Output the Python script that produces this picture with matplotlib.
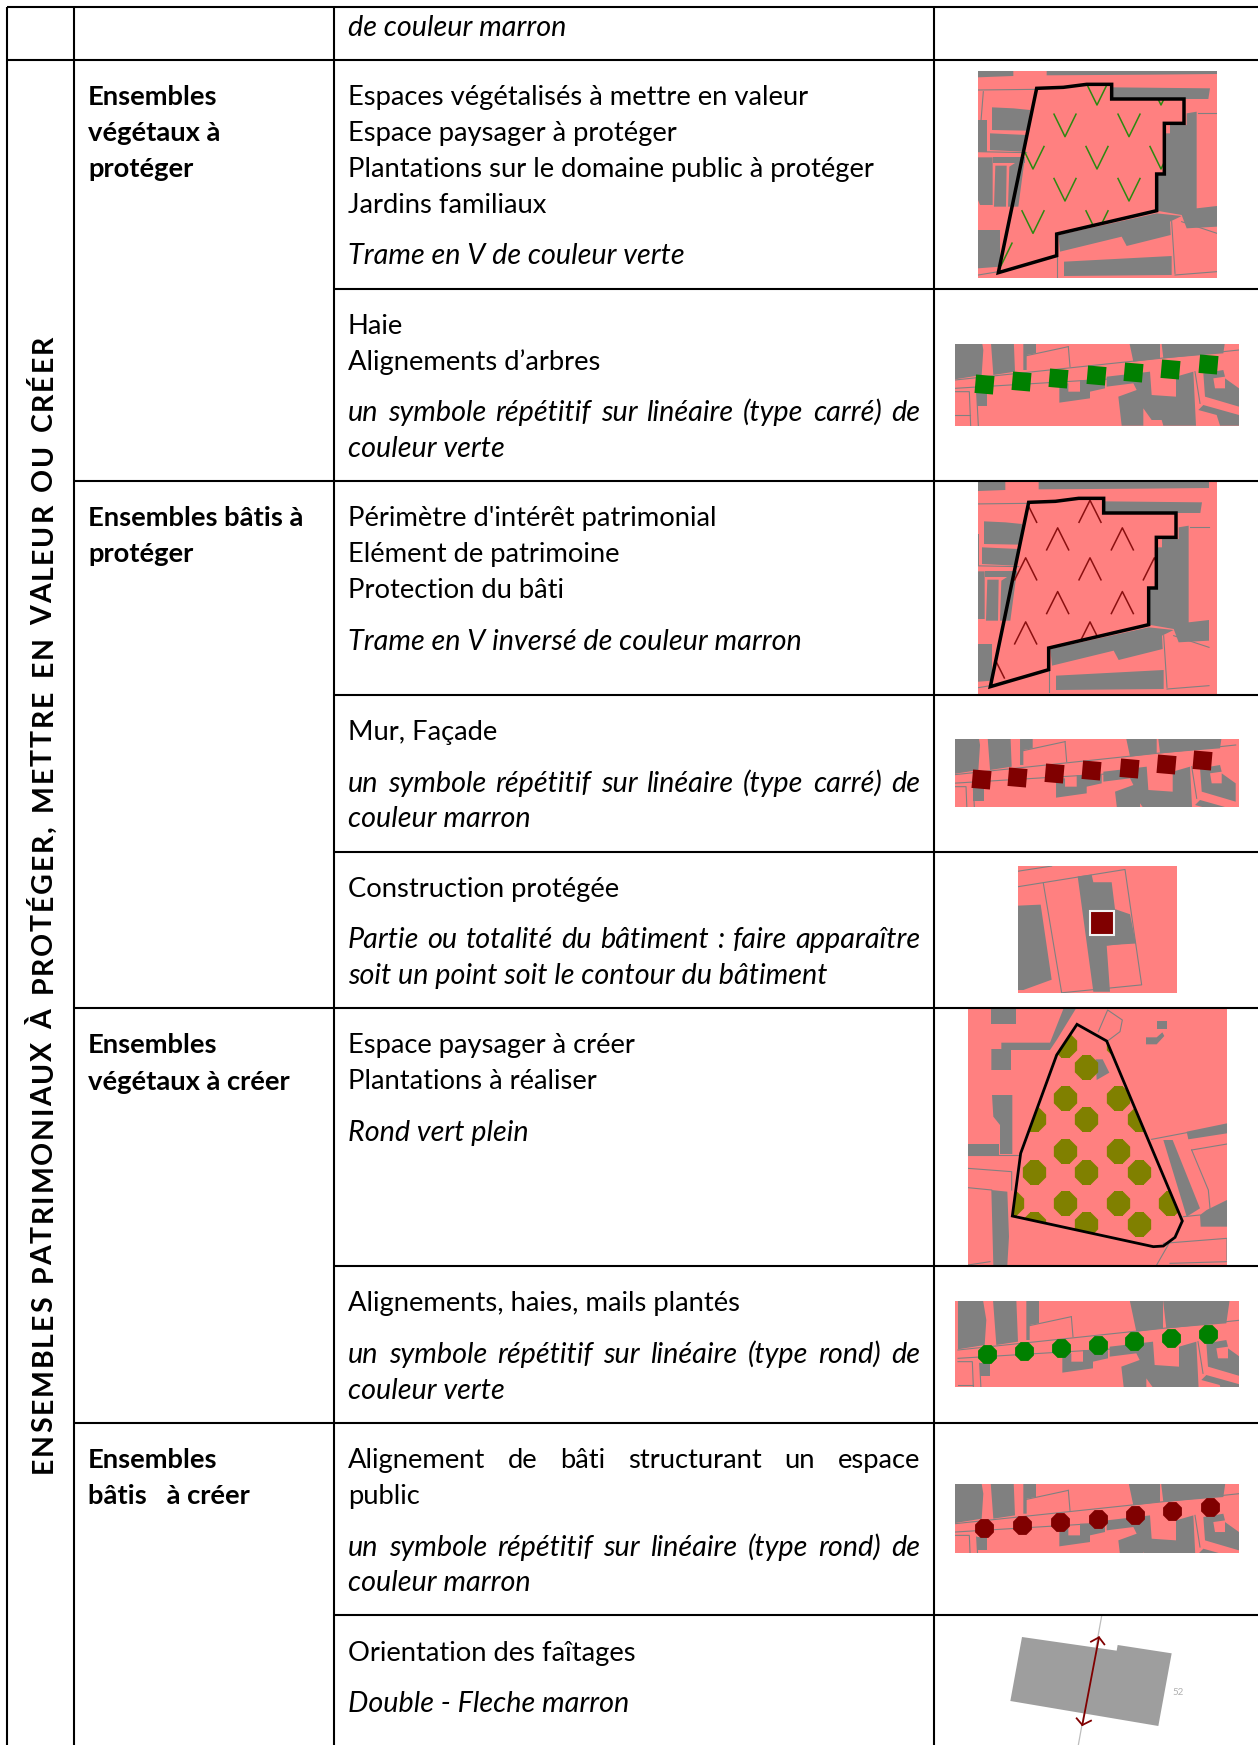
import matplotlib
matplotlib.use('Agg')
import matplotlib.pyplot as plt
from matplotlib.font_manager import FontProperties, findfont, get_font
from matplotlib.ft2font import Kerning
from matplotlib.patches import Polygon, Rectangle

plt.rcParams['font.family'] = ['Lato', 'DejaVu Sans']

PINK = '#ff8080'
GREY = '#808080'
GREEN = '#008000'
BROWN = '#800000'
OLIVE = '#808000'

# table rules, picture pixels
v_rules = [(7, 7, 1745), (74, 7, 1745), (334, 7, 1745), (934, 7, 1745)]
h_rules = [(7, 7), (7, 60), (334, 289), (74, 481), (334, 695), (334, 852),
           (74, 1008), (334, 1266), (74, 1423), (334, 1615)]

title = 'ENSEMBLES PATRIMONIAUX À PROTÉGER, METTRE EN VALEUR OU CRÉER'

left_labels = [
    (105, 'Ensembles'), (141, 'végétaux à'), (177, 'protéger'),
    (526, 'Ensembles bâtis à'), (562, 'protéger'),
    (1053, 'Ensembles'), (1090, 'végétaux à créer'),
    (1468, 'Ensembles'), (1504, 'bâtis   à créer'),
]

# baseline, text, italic, justified
body_lines = [
    (36, 'de couleur marron', True, False),
    (105, 'Espaces végétalisés à mettre en valeur', False, False),
    (141, 'Espace paysager à protéger', False, False),
    (177, 'Plantations sur le domaine public à protéger', False, False),
    (213, 'Jardins familiaux', False, False),
    (264, 'Trame en V de couleur verte', True, False),
    (334, 'Haie', False, False),
    (370, 'Alignements d’arbres', False, False),
    (421, 'un symbole répétitif sur linéaire (type carré) de', True, True),
    (457, 'couleur verte', True, False),
    (526, "Périmètre d'intérêt patrimonial", False, False),
    (562, 'Elément de patrimoine', False, False),
    (598, 'Protection du bâti', False, False),
    (650, 'Trame en V inversé de couleur marron', True, False),
    (740, 'Mur, Façade', False, False),
    (792, 'un symbole répétitif sur linéaire (type carré) de', True, True),
    (827, 'couleur marron', True, False),
    (897, 'Construction protégée', False, False),
    (948, 'Partie ou totalité du bâtiment : faire  apparaître', True, True),
    (984, 'soit un point soit le contour du bâtiment', True, False),
    (1053, 'Espace paysager à créer', False, False),
    (1089, 'Plantations à réaliser', False, False),
    (1141, 'Rond vert plein', True, False),
    (1311, 'Alignements, haies, mails plantés', False, False),
    (1363, 'un symbole répétitif sur linéaire (type rond) de', True, True),
    (1399, 'couleur verte', True, False),
    (1468, 'Alignement de bâti structurant un espace', False, True),
    (1504, 'public', False, False),
    (1556, 'un symbole répétitif sur linéaire (type rond) de', True, True),
    (1591, 'couleur marron', True, False),
    (1661, 'Orientation des faîtages', False, False),
    (1712, 'Double - Fleche marron', True, False),
]

# thumbnails: x0, x1, y0, y1
box_green_v = (978, 1217, 71, 278)
box_brown_v = (978, 1217, 482, 694)
box_green_sq = (955, 1239, 344, 426)
box_brown_sq = (955, 1239, 739, 807)
box_build = (1018, 1177, 866, 993)
box_olive = (968, 1227, 1009, 1265)
box_green_dot = (955, 1239, 1301, 1387)
box_brown_dot = (955, 1239, 1484, 1553)

# parcel map, read at 3x from the crop starting at x=930
parcel_grey = [
    [(144, 195), (250, 195), (250, 228), (144, 232)],
    [(350, 195), (861, 195), (861, 222), (660, 224), (350, 226)],
    [(545, 262), (840, 265), (835, 297), (545, 297)],
    [(770, 340), (800, 335), (800, 625), (861, 618), (861, 680), (770, 685),
     (755, 645), (680, 632), (680, 525), (705, 525), (705, 400), (720, 400),
     (720, 375), (770, 375)],
    [(186, 322), (250, 325), (300, 330), (295, 392), (186, 390)],
    [(180, 400), (290, 405), (280, 455), (180, 450)],
    [(144, 360), (172, 360), (172, 455), (144, 455)],
    [(144, 472), (188, 472), (188, 615), (150, 615), (144, 600)],
    [(196, 497), (230, 497), (228, 620), (192, 620)],
    [(238, 500), (285, 470), (265, 620), (234, 620)],
    [(188, 470), (285, 470), (285, 490), (188, 490)],
    [(144, 690), (210, 690), (210, 800), (144, 805)],
    [(385, 705), (680, 640), (755, 648), (720, 665), (722, 705), (590, 738),
     (575, 710), (390, 755)],
    [(402, 785), (725, 768), (725, 825), (402, 828)],
]
parcel_lines = [
    [(144, 270), (320, 268)], [(160, 275), (150, 400)], [(144, 455), (290, 458)],
    [(380, 760), (380, 833)], [(725, 665), (735, 820)], [(755, 665), (861, 700)],
    [(861, 340), (805, 340)], [(145, 825), (205, 815)], [(735, 825), (861, 815)],
]
parcel_outline = [(320, 265), (400, 262), (470, 253), (545, 253), (545, 297), (762, 297),
                  (762, 370), (703, 370), (703, 522), (680, 522), (680, 632),
                  (380, 702), (380, 767), (205, 818)]
green_v_tips = [(501, 315), (693, 315), (405, 410), (597, 410), (309, 507), (501, 507),
                (693, 507), (405, 603), (597, 603), (309, 700), (501, 700), (213, 797)]
# brown carets, crop starting at y=470, read at 1568/540
brown_v_tops = [(287, 88), (480, 88), (383, 168), (577, 168), (287, 255), (480, 255),
                (673, 255), (383, 353), (577, 353), (287, 441), (480, 441), (190, 540)]

# street map, 3x crop starting at x=930, y=0
street_grey = [
    [(75, 990), (150, 990), (160, 1050), (155, 1125), (75, 1138)],
    [(180, 990), (250, 990), (255, 1115), (190, 1125)],
    [(280, 990), (318, 990), (318, 1060), (290, 1065), (290, 1110), (280, 1110)],
    [(590, 990), (690, 990), (690, 1075), (610, 1085)],
    [(690, 990), (890, 990), (880, 1060), (700, 1075)],
    [(140, 1180), (172, 1180), (172, 1218), (140, 1218)],
    [(388, 1150), (415, 1150), (415, 1175), (450, 1175), (450, 1140), (525, 1140),
     (525, 1165), (480, 1175), (480, 1195), (388, 1208)],
    [(530, 1130), (660, 1115), (665, 1185), (738, 1190), (738, 1130), (790, 1115),
     (798, 1277), (700, 1277), (695, 1260), (665, 1260), (640, 1225), (640, 1277),
     (575, 1277), (565, 1190), (620, 1170), (610, 1150), (530, 1160)],
    [(820, 1120), (880, 1110), (885, 1130), (850, 1135), (855, 1165), (885, 1165),
     (885, 1135), (927, 1165), (927, 1220), (825, 1190)],
    [(820, 1215), (927, 1245), (927, 1277), (870, 1277), (860, 1245), (805, 1230)],
]
street_lines = [
    [(75, 1140), (927, 1050)], [(75, 1165), (570, 1135)], [(285, 1068), (415, 1040)],
    [(415, 1040), (420, 1100)], [(75, 1175), (118, 1175), (122, 1277)],
    [(75, 1245), (120, 1245)], [(140, 1180), (145, 1277)], [(795, 1115), (810, 1210)],
]
green_sq_x = [163, 273, 385, 497, 609, 721, 833]
green_sq_y = [1152, 1143, 1133, 1124, 1115, 1106, 1092]
brown_sq_x = [153, 262, 373, 484, 596, 707, 817]
brown_sq_y = [898, 890, 881, 872, 864, 854, 842]
green_dot_x = [172, 282, 393, 503, 612, 723, 833]
green_dot_y = [1062, 1054, 1045, 1036, 1024, 1014, 1002]
brown_dot_x = [163, 277, 390, 503, 614, 727, 840]
brown_dot_y = [384, 375, 365, 356, 344, 334, 322]

# single building, crop starting at y=470, read at 1568/540
build_grey = [
    [(264, 1265), (332, 1262), (365, 1480), (280, 1510), (264, 1510)],
    [(443, 1180), (485, 1175), (490, 1197), (545, 1197), (555, 1275), (600, 1290),
     (618, 1375), (530, 1380), (540, 1515), (490, 1515)],
]
build_lines = [
    [(264, 1165), (365, 1150)], [(264, 1210), (585, 1160), (635, 1495), (395, 1518)],
    [(340, 1200), (395, 1518)], [(530, 1380), (615, 1370)],
]
build_square = [(480, 1280), (552, 1280), (552, 1350), (480, 1350)]

# round plantation, 3x crop starting at y=1000
olive_grey = [
    [(184, 27), (257, 27), (257, 72), (184, 72)],
    [(400, 27), (437, 27), (380, 120), (360, 150), (243, 150), (243, 210), (184, 210),
     (184, 147), (214, 147), (214, 128), (360, 128)],
    [(186, 285), (247, 285), (247, 462), (210, 462), (210, 375), (190, 350)],
    [(114, 433), (208, 433), (208, 465), (114, 465)],
    [(184, 570), (232, 575), (237, 710), (232, 795), (190, 795)],
    [(682, 63), (712, 63), (712, 88), (682, 88)],
    [(648, 112), (680, 112), (697, 97), (703, 108), (680, 133), (648, 133)],
    [(497, 178), (518, 178), (538, 218), (500, 240)],
    [(700, 420), (728, 420), (810, 625), (770, 650)],
    [(770, 395), (891, 370), (891, 400), (775, 418)],
    [(810, 645), (830, 630), (891, 600), (891, 680), (812, 680)],
]
olive_lines = [
    [(505, 95), (533, 30), (577, 60), (570, 95), (530, 125)],
    [(665, 418), (770, 398)], [(785, 450), (891, 432)],
    [(785, 450), (835, 570), (840, 625)], [(114, 505), (245, 515), (245, 570)],
    [(114, 563), (185, 570)], [(114, 465), (270, 465)],
    [(700, 730), (891, 715), (891, 780)], [(680, 795), (720, 725)],
    [(114, 795), (180, 785)], [(760, 650), (810, 645)], [(720, 790), (891, 785)],
]
olive_outline = [(441, 73), (530, 123), (757, 663), (735, 712), (700, 738), (670, 740),
                 (247, 648), (272, 460), (380, 165)]
olive_x = [405, 563, 469, 405, 563, 311, 469, 627, 405, 563, 311, 469, 627, 247, 405, 563,
           721, 311, 469, 627]
olive_y = [135, 135, 200, 294, 294, 358, 358, 358, 452, 452, 516, 516, 516, 609, 609, 609,
           609, 672, 672, 672]

# roof orientation, 3x crop starting at y=1400
roof_shape = [(276, 711), (560, 752), (563, 735), (725, 760), (685, 978), (241, 903)]
roof_axis = [(515, 648), (445, 1035)]
roof_arrow = [(507, 712), (457, 975)]
roof_head_top = [(483, 725), (507, 712), (523, 733)]
roof_head_bottom = [(440, 955), (457, 975), (483, 962)]


def crop(pts, y0=0, sy=1 / 3, dx=0, dy=0):
    return [(930 + x / 3 + dx, y0 + y * sy + dy) for x, y in pts]


fig = plt.figure(figsize=(12.58, 17.45), dpi=100)
ax = fig.add_axes([0, 0, 1, 1])
ax.set_xlim(0, 1258)
ax.set_ylim(1745, 0)
ax.axis('off')
renderer = fig.canvas.get_renderer()


def thumbnail(box, grey, lines, y0=0, sy=1 / 3, dx=0, dy=0):
    x0, x1, y_top, y_bot = box
    clip = Rectangle((x0, y_top), x1 - x0, y_bot - y_top, fc=PINK, ec='none', zorder=1)
    ax.add_patch(clip)
    for pts in grey:
        p = Polygon(crop(pts, y0, sy, dx, dy), fc=GREY, ec='none', zorder=2)
        ax.add_patch(p)
        p.set_clip_path(clip)
    for pts in lines:
        xy = crop(pts, y0, sy, dx, dy)
        l, = ax.plot([a for a, b in xy], [b for a, b in xy], color=GREY, lw=0.8, zorder=2)
        l.set_clip_path(clip)
    return clip


def outline(pts, clip, y0=0, sy=1 / 3, dx=0, dy=0, lw=2.5):
    p = Polygon(crop(pts, y0, sy, dx, dy), fc='none', ec='black', lw=lw, zorder=5, joinstyle='miter')
    ax.add_patch(p)
    p.set_clip_path(clip)
    return p


def on_line(x_list, y_list, color, marker, size, y0=0):
    xy = crop(list(zip(x_list, y_list)), y0)
    ax.scatter([a for a, b in xy], [b for a, b in xy], s=size, c=color, marker=marker,
               linewidths=0, zorder=4)


def text_width(s, **kw):
    t = ax.text(0, 0, s, **kw)
    w = t.get_window_extent(renderer).width
    t.remove()
    return w


FS = 19.7
FS_ITALIC = 20.7
TITLE_FS = 20.5
BODY_X = 348
BODY_R = 920

# parcels with V pattern
clip = thumbnail(box_green_v, parcel_grey, parcel_lines)
shape = Polygon(crop(parcel_outline), fc='none', ec='none')
ax.add_patch(shape)
for tip in crop(green_v_tips):
    l, = ax.plot([tip[0] - 11, tip[0], tip[0] + 11], [tip[1] - 22.5, tip[1], tip[1] - 22.5],
                 color='#2b8a10', lw=1.1, zorder=3)
    l.set_clip_path(shape)
outline(parcel_outline, clip)

clip = thumbnail(box_brown_v, parcel_grey, parcel_lines, dx=-8, dy=414)
shape = Polygon(crop(parcel_outline, dx=-8, dy=414), fc='none', ec='none')
ax.add_patch(shape)
for top in crop(brown_v_tops, y0=470, sy=540 / 1568):
    l, = ax.plot([top[0] - 11, top[0], top[0] + 11], [top[1] + 22, top[1], top[1] + 22],
                 color='#8a1010', lw=1.1, zorder=3)
    l.set_clip_path(shape)
outline(parcel_outline, clip, dx=-8, dy=414)

# street thumbnails
thumbnail(box_green_sq, street_grey, street_lines)
on_line(green_sq_x, green_sq_y, GREEN, (4, 0, 40), 355)

thumbnail(box_brown_sq, street_grey, street_lines, dx=-3.3, dy=395)
xy = crop(list(zip(brown_sq_x, brown_sq_y)), 470, 540 / 1568)
ax.scatter([a for a, b in xy], [b for a, b in xy], s=355, c=BROWN, marker=(4, 0, 40), linewidths=0, zorder=4)

thumbnail(box_green_dot, street_grey, street_lines, dx=3, dy=970)
on_line(green_dot_x, green_dot_y, GREEN, '8', 215, y0=1000)

thumbnail(box_brown_dot, street_grey, street_lines, dx=0, dy=1143.7)
on_line(brown_dot_x, brown_dot_y, BROWN, '8', 215, y0=1400)

# single building
clip = thumbnail(box_build, build_grey, build_lines, y0=470, sy=540 / 1568)
ax.add_patch(Polygon(crop(build_square, 470, 540 / 1568), fc=BROWN, ec='#f2f2f2', lw=1.5, zorder=4))

# round plantation
clip = thumbnail(box_olive, olive_grey, olive_lines, y0=1000)
shape = Polygon(crop(olive_outline, 1000), fc='none', ec='none')
ax.add_patch(shape)
xy = crop(list(zip(olive_x, olive_y)), 1000)
dots = ax.scatter([a for a, b in xy], [b for a, b in xy], s=330, c=OLIVE, marker='8', linewidths=0, zorder=3)
dots.set_clip_path(shape)
outline(olive_outline, clip, y0=1000, lw=2)

# roof
ax.add_patch(Polygon(crop(roof_shape, 1400), fc='#9e9e9e', ec='none', zorder=2))
xy = crop(roof_axis, 1400)
ax.plot([a for a, b in xy], [b for a, b in xy], color='#bdbdbd', lw=0.9, zorder=1)
for pts in (roof_arrow, roof_head_top, roof_head_bottom):
    xy = crop(pts, 1400)
    ax.plot([a for a, b in xy], [b for a, b in xy], color=BROWN, lw=1.3, zorder=4)
ax.text(930 + 745 / 3, 1400 + 877 / 3, '52', color='#b0b0b0', fontsize=7, ha='center', va='center')

# table rules
for x, y0, y1 in v_rules:
    ax.plot([x, x], [y0, y1], color='black', lw=1.5, solid_capstyle='butt', zorder=6)
for x0, y in h_rules:
    ax.plot([x0, 1258], [y, y], color='black', lw=1.5, solid_capstyle='butt', zorder=6)

# rotated title, tracked out letter by letter from the font's own advances
kw = dict(fontsize=TITLE_FS, fontweight='bold', rotation=90, rotation_mode='anchor', ha='left', va='baseline')
font = get_font(findfont(FontProperties(family='Lato', weight='bold')))
font.set_size(TITLE_FS, 100)
adv, bearing = [], []
for i, ch in enumerate(title):
    g = font.load_char(ord(ch))
    a = g.linearHoriAdvance / 65536
    if ch == ' ':
        a *= 1.4
    if i + 1 < len(title):
        a += font.get_kerning(font.get_char_index(ord(ch)), font.get_char_index(ord(title[i + 1])), Kerning.DEFAULT) / 64
    adv.append(a)
    bearing.append(g.horiBearingX / 64)
gap = (1475 - 337 - sum(adv)) / (len(title) - 1)
y = 1475
for ch, a, b in zip(title, adv, bearing):
    if ch != ' ':
        ax.text(52, y - b, ch, **kw)
    y -= a + gap

for y, s in left_labels:
    ax.text(88, y, s, fontsize=FS, fontweight='bold', va='baseline')

for y, s, italic, justified in body_lines:
    style = 'italic' if italic else 'normal'
    size = FS_ITALIC if italic else FS
    if justified:
        words = s.split()
        widths = [text_width(w, fontsize=size, style=style) for w in words]
        space = (BODY_R - BODY_X - sum(widths)) / (len(words) - 1)
        x = BODY_X
        for w, wd in zip(words, widths):
            ax.text(x, y, w, fontsize=size, style=style, va='baseline')
            x += wd + space
    else:
        ax.text(BODY_X, y, s, fontsize=size, style=style, va='baseline')

fig.savefig('out.png', dpi=100)
